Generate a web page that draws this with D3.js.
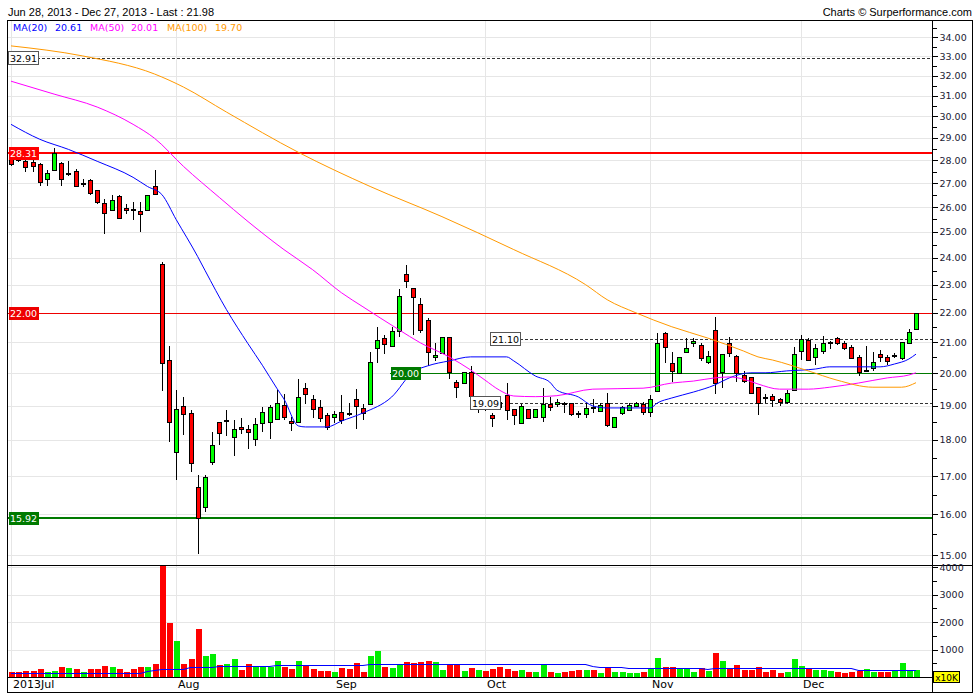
<!DOCTYPE html>
<html><head><meta charset="utf-8">
<script src="https://cdn.jsdelivr.net/npm/d3@7"></script>
<style>body{margin:0;background:#fff}svg{display:block}</style>
</head><body><svg id="c" width="980" height="700"></svg>
<script>
// ---------- DATA ----------
const openP = [28.10,28.20,27.95,27.90,27.82,27.20,27.55,27.86,27.43,27.51,
27.00,27.12,26.69,26.18,25.86,26.44,25.98,25.94,25.82,25.90,
26.90,23.78,20.42,17.65,18.99,18.78,16.70,16.18,17.38,18.51,
18.55,18.07,18.37,18.31,18.02,18.48,18.51,18.60,19.02,18.54,
18.51,19.53,19.20,18.96,18.72,18.66,18.81,18.78,19.20,18.93,
19.05,20.81,21.14,20.88,21.38,23.38,22.89,22.32,21.76,20.53,
20.65,21.18,19.72,19.69,20.04,18.95,19.20,18.72,19.10,19.32,
18.90,18.48,18.90,18.66,18.66,19.05,19.05,19.08,19.08,18.78,
18.75,18.95,18.84,19.08,18.37,18.78,18.87,18.99,19.05,18.81,
19.44,21.31,20.32,20.01,20.68,20.98,20.91,20.36,21.42,20.04,
20.98,20.55,19.94,19.88,19.56,19.27,19.29,19.20,19.11,19.47,
20.71,21.08,20.52,20.71,20.98,21.14,20.98,20.84,20.52,20.08,
20.16,20.62,20.52,20.55,20.49,20.98,21.45];
const highP = [28.30,28.40,27.99,28.00,27.86,27.55,28.53,27.91,27.95,27.60,
27.20,27.16,26.73,26.35,26.52,26.52,26.14,26.22,26.22,26.52,
27.55,23.85,20.88,19.47,19.26,18.87,17.02,17.04,18.22,18.51,
18.87,18.57,18.63,18.43,18.63,18.96,19.02,19.47,19.35,18.66,
19.81,19.69,19.32,19.17,18.78,18.84,19.32,19.08,19.50,19.05,
20.68,21.52,21.25,21.52,22.85,23.71,22.89,22.53,21.83,20.98,
21.18,21.18,19.78,20.04,20.23,19.25,19.30,18.78,19.25,19.69,
18.90,19.05,18.90,18.90,19.53,19.26,19.20,19.11,19.08,18.84,
19.08,19.20,19.08,19.38,18.66,18.99,19.08,19.11,19.11,19.32,
21.31,21.35,20.68,20.52,21.14,21.14,20.98,20.71,21.86,20.62,
21.18,20.59,20.07,19.88,19.56,19.35,19.35,19.23,19.47,20.84,
21.25,21.14,20.94,21.21,21.04,21.18,21.04,20.91,20.59,20.88,
20.68,20.75,20.59,20.65,21.00,21.45,22.00];
const lowP = [27.75,27.90,27.46,27.46,26.86,26.90,27.51,26.90,27.29,26.82,
26.82,26.48,26.14,24.93,25.82,25.57,25.73,25.49,25.01,25.90,
26.48,19.43,17.93,16.88,18.13,17.10,15.03,16.05,17.29,17.85,
18.10,17.54,18.16,17.74,17.82,18.22,18.02,18.57,18.57,18.25,
18.48,19.05,18.63,18.51,18.28,18.48,18.46,18.69,18.31,18.57,
19.05,20.32,20.62,20.84,21.18,22.89,21.25,21.31,20.23,20.39,
20.65,19.81,19.23,19.69,19.02,18.78,18.84,18.37,18.90,18.57,
18.43,18.46,18.63,18.63,18.51,18.84,18.96,18.78,18.69,18.63,
18.63,18.78,18.81,18.37,18.37,18.72,18.84,18.96,18.72,18.66,
19.44,20.32,19.72,20.01,20.65,20.84,20.39,20.29,19.35,19.53,
20.52,19.72,19.69,19.38,18.72,19.08,18.96,18.99,19.05,19.47,
20.42,20.39,20.26,20.62,20.78,20.91,20.75,20.45,19.91,20.07,
20.07,20.36,20.26,20.49,20.42,20.94,21.42];
const closeP = [27.85,27.99,27.69,27.73,27.03,27.42,28.30,27.20,27.45,26.86,
27.02,26.60,26.22,25.77,26.31,25.57,25.86,25.86,25.73,26.48,
26.56,20.32,18.51,18.90,18.75,17.35,15.92,16.96,17.85,18.19,
18.58,18.31,18.31,18.22,18.46,18.81,18.96,19.08,18.66,18.48,
19.26,19.35,18.90,18.63,18.37,18.75,18.57,18.74,18.99,18.78,
20.36,21.08,20.94,21.38,22.60,23.14,22.57,21.42,20.68,20.57,
21.18,20.04,19.56,20.04,19.29,19.15,19.00,18.63,18.95,18.87,
18.72,18.99,18.63,18.90,19.05,18.96,19.11,19.05,18.75,18.75,
18.93,18.92,19.02,18.43,18.66,18.96,19.02,19.08,18.81,19.20,
20.98,20.84,20.07,20.52,20.81,21.04,20.49,20.55,19.69,20.62,
20.65,20.01,19.75,19.38,19.08,19.25,19.17,19.11,19.38,20.62,
21.11,20.42,20.81,20.98,21.00,20.98,20.81,20.49,20.04,20.11,
20.36,20.52,20.39,20.58,21.00,21.35,21.98];
const volume = [181,181,229,229,278,181,229,374,338,278,
181,302,302,411,374,278,181,278,374,374,
483,4300,1981,1316,483,664,1751,773,845,447,
483,664,266,483,374,374,374,592,374,302,
592,411,302,229,229,193,338,302,519,193,
772,953,374,338,447,555,519,555,591,555,
266,447,447,229,338,266,229,302,374,302,
229,266,193,193,447,193,157,193,229,266,
266,266,157,374,193,193,157,157,193,314,
700,374,374,314,314,193,338,229,881,591,
314,447,266,266,374,193,266,157,193,664,
411,338,266,266,229,193,157,193,229,302,
193,193,193,229,519,229,266];

const ma20Idx = [0,4,8,12,17,19,21,23,26,27,30,33,35,37,38,40,41,44,46,49,53,56,58,61,64,69,70,73,75,76,79,81,83,89,90,92,95,98,100,103,105,108,112,114,118,121,123,125,126];
const ma20Val = [29.63,28.94,28.48,27.95,27.25,26.86,26.52,25.49,24.04,23.53,22.11,20.95,20.25,19.53,19.20,18.40,18.37,18.37,18.54,18.78,19.26,20.04,20.23,20.39,20.52,20.52,20.39,19.91,19.72,19.47,19.26,18.99,18.93,18.93,19.08,19.23,19.41,19.63,19.85,20.01,20.01,20.07,20.13,20.20,20.20,20.20,20.29,20.45,20.61];
const ma50Idx = [0,6,12,17,20,24,29,33,38,42,46,49,54,57,61,64,66,68,70,73,76,81,88,92,95,98,100,102,104,107,111,114,118,122,125,126];
const ma50Val = [31.72,31.08,30.45,29.63,28.98,27.73,26.40,25.41,24.31,23.55,22.71,22.21,21.42,20.98,20.52,20.10,19.78,19.47,19.29,19.27,19.30,19.50,19.53,19.69,19.75,19.85,19.88,19.81,19.66,19.50,19.50,19.56,19.69,19.85,19.94,20.01];
const ma100Idx = [0,10,20,24,30,40,50,60,70,80,83,87,92,97,102,104,106,111,115,120,124,126];
const ma100Val = [33.54,33.01,32.08,31.43,30.21,28.35,26.86,25.61,24.31,23.00,22.46,22.00,21.52,21.14,20.71,20.52,20.42,20.07,19.78,19.56,19.56,19.70];
const volMaIdx = [0,18,19,21,24,25,28,29,36,37,49,50,80,81,82,85,86,96,97,98,117,118,126];
const volMaVal = [156,156,228,290,290,350,350,398,398,434,434,458,458,398,374,374,314,314,300,314,314,253,253];

const monthIdx = [0,23,45,66,89,110];
const monthLabels = ["2013Jul","Aug","Sep","Oct","Nov","Dec"];
const priceTicks = d3.range(15,35);
const volTicks = [1000,2000,3000,4000];
const levelValues = [32.91,28.31,22.00,21.10,20.00,19.09,15.92];
const levelLabels = ["32.91","28.31","22.00","21.10","20.00","19.09","15.92"];
const maNames = ["MA(20)","MA(50)","MA(100)"];
const maLast = ["20.61","20.01","19.70"];
const headerText = "Jun 28, 2013 - Dec 27, 2013 - Last : 21.98";
const creditText = "Charts \u00a9 Surperformance.com";

// ---------- LAYOUT ----------
const L=7, R=932, FR=973, T=20, PB=565, VT=565, VB=677, B=692;
const svg = d3.select('#c');
const x = d3.scaleLinear().domain([0,126]).range([11,916]);
const y = d3.scaleLog().domain([14.77,34.94]).range([PB,T]);
const yv = d3.scaleLinear().domain([0,4000]).range([VB,567]);
const cx = i => Math.round(x(i));
const fontAxis = "DejaVu Sans, Verdana, sans-serif";

const defs = svg.append('defs');
defs.append('clipPath').attr('id','pc').append('rect').attr('x',L+1).attr('y',T+1).attr('width',R-L-1).attr('height',PB-T-1);
defs.append('clipPath').attr('id','vc').append('rect').attr('x',L+1).attr('y',VT+1).attr('width',R-L-1).attr('height',VB-VT-1);

// header
svg.append('text').attr('x',8).attr('y',16).attr('font-family','Liberation Sans, Arial, sans-serif').attr('font-size',11).attr('fill','#000').text(headerText);
svg.append('text').attr('x',972).attr('y',16).attr('text-anchor','end').attr('font-family','Liberation Sans, Arial, sans-serif').attr('font-size',11).attr('fill','#000').text(creditText);

// grid
const grid = svg.append('g').attr('shape-rendering','crispEdges').attr('stroke','#e6e6e6').attr('stroke-width',1);
grid.selectAll('.hg').data(priceTicks).join('line')
  .attr('x1',L).attr('x2',R).attr('y1',d=>Math.round(y(d))+0.5).attr('y2',d=>Math.round(y(d))+0.5);
grid.selectAll('.vg').data(volTicks).join('line')
  .attr('x1',L).attr('x2',R).attr('y1',d=>Math.round(yv(d))+0.5).attr('y2',d=>Math.round(yv(d))+0.5);
grid.selectAll('.mg').data(monthIdx).join('line')
  .attr('x1',d=>cx(d)+0.5).attr('x2',d=>cx(d)+0.5).attr('y1',T).attr('y2',VB);

// level lines
const levelStyle = [
 {stroke:'#333',w:1,dash:'3,2',fromI:null,box:'#fff',txt:'#000',border:'#555'},
 {stroke:'#ff0000',w:2,dash:null,fromI:null,box:'#ff0000',txt:'#fff',border:null},
 {stroke:'#ee0000',w:1,dash:null,fromI:null,box:'#ee0000',txt:'#fff',border:null},
 {stroke:'#333',w:1,dash:'3,2',fromI:66.7,box:'#fff',txt:'#000',border:'#555'},
 {stroke:'#007a00',w:1,dash:null,fromI:52.8,box:'#007a00',txt:'#fff',border:null},
 {stroke:'#333',w:1,dash:'3,2',fromI:63.9,box:'#fff',txt:'#000',border:'#555'},
 {stroke:'#007a00',w:2,dash:null,fromI:null,box:'#007a00',txt:'#fff',border:null}
];
const lv = svg.append('g').attr('clip-path','url(#pc)');
levelValues.forEach((v,k)=>{
  const s = levelStyle[k];
  const x0 = s.fromI==null ? L : x(s.fromI);
  const yy = s.w===2 ? Math.round(y(v)) : Math.round(y(v))+0.5;
  lv.append('line').attr('x1',x0).attr('x2',R).attr('y1',yy).attr('y2',yy)
    .attr('stroke',s.stroke).attr('stroke-width',s.w).attr('stroke-dasharray',s.dash).attr('shape-rendering','crispEdges');
});

// candles
const cg = svg.append('g').attr('clip-path','url(#pc)').attr('shape-rendering','crispEdges');
const idx = d3.range(openP.length);
cg.selectAll('.wick').data(idx).join('line')
  .attr('x1',i=>cx(i)+0.5).attr('x2',i=>cx(i)+0.5)
  .attr('y1',i=>y(highP[i])).attr('y2',i=>y(lowP[i]))
  .attr('stroke','#000').attr('stroke-width',1);
cg.selectAll('.body').data(idx).join('rect')
  .attr('x',i=>cx(i)-1.5).attr('width',4)
  .attr('y',i=>Math.round(y(Math.max(openP[i],closeP[i])))+0.5)
  .attr('height',i=>Math.max(0.5,Math.round(y(Math.min(openP[i],closeP[i])))-Math.round(y(Math.max(openP[i],closeP[i])))))
  .attr('fill',i=>closeP[i]>=openP[i]?'#00ff00':'#ff0000')
  .attr('stroke','#000').attr('stroke-width',1);

// moving averages
const maG = svg.append('g').attr('clip-path','url(#pc)').attr('fill','none');
const maSets = [[ma20Idx,ma20Val,'#0000ff'],[ma50Idx,ma50Val,'#ff00ff'],[ma100Idx,ma100Val,'#ff9900']];
maSets.forEach(([ii,vv,col])=>{
  const line = d3.line().x((d,k)=>x(ii[k])).y(d=>y(d)).curve(d3.curveMonotoneX);
  maG.append('path').attr('d',line(vv)).attr('stroke',col).attr('stroke-width',1);
});

// volume
const vg = svg.append('g').attr('clip-path','url(#vc)').attr('shape-rendering','crispEdges');
vg.selectAll('rect').data(idx).join('rect')
  .attr('x',i=>cx(i)-2.5).attr('width',6)
  .attr('y',i=>Math.round(yv(volume[i]))).attr('height',i=>VB-Math.round(yv(volume[i])))
  .attr('fill',i=>closeP[i]>=openP[i]?'#00ee00':'#ff0000');
const vline = d3.line().x((d,k)=>x(volMaIdx[k])).y(d=>Math.round(yv(d))+0.5);
svg.append('path').attr('clip-path','url(#vc)').attr('d',vline(volMaVal)).attr('fill','none').attr('stroke','#0000ff').attr('stroke-width',1.2);

// frames
const fr = svg.append('g').attr('shape-rendering','crispEdges').attr('stroke','#000').attr('fill','none');
fr.append('rect').attr('x',L+0.5).attr('y',T+0.5).attr('width',FR-L-1).attr('height',B-T);
fr.append('line').attr('x1',R+0.5).attr('x2',R+0.5).attr('y1',T).attr('y2',B);
fr.append('line').attr('x1',L).attr('x2',FR).attr('y1',VT+0.5).attr('y2',VT+0.5);
fr.append('line').attr('x1',L).attr('x2',R).attr('y1',VB+0.5).attr('y2',VB+0.5);

// price axis (right)
const pAxis = d3.axisRight(y).tickValues(priceTicks).tickFormat(d3.format('.2f')).tickSize(5).tickPadding(2);
svg.append('g').attr('transform',`translate(${R+0.5},0)`).call(pAxis);
const minorP = d3.range(15,35,0.5).filter(v=>v%1!==0);
svg.append('g').attr('transform',`translate(${R+0.5},0)`).call(d3.axisRight(y).tickValues(minorP).tickFormat('').tickSize(4));
svg.append('g').attr('transform',`translate(${R+0.5},0)`).call(d3.axisRight(yv).tickValues(volTicks).tickFormat(d3.format('d')).tickSize(5).tickPadding(2));
svg.append('g').attr('transform',`translate(${R+0.5},0)`).call(d3.axisRight(yv).tickValues([500,1500,2500,3500]).tickFormat('').tickSize(4));
svg.selectAll('.domain').remove();
svg.selectAll('.tick line').attr('stroke','#000').attr('shape-rendering','crispEdges');
svg.selectAll('.tick text').attr('font-family',fontAxis).attr('font-size',9.5).attr('fill','#1a1a33');

// x10K badge
svg.append('rect').attr('x',933.5).attr('y',671.5).attr('width',26).attr('height',11).attr('fill','#ffff00').attr('stroke','#000').attr('shape-rendering','crispEdges');
svg.append('text').attr('x',946.5).attr('y',680.5).attr('text-anchor','middle').attr('font-family',fontAxis).attr('font-size',9).attr('fill','#000').text('x10K');

// month labels
svg.selectAll('.ml').data(monthIdx).join('text')
  .attr('x',d=>cx(d)+2).attr('y',688).attr('font-family',fontAxis).attr('font-size',11).attr('fill','#000')
  .text((d,k)=>monthLabels[k]);

// level labels
levelValues.forEach((v,k)=>{
  const s = levelStyle[k];
  const bx = s.fromI==null ? L+1 : Math.round(x(s.fromI));
  const yy = Math.round(y(v));
  svg.append('rect').attr('x',bx+0.5).attr('y',yy-6.5).attr('width',30).attr('height',13)
    .attr('fill',s.box).attr('stroke',s.border||'none').attr('shape-rendering','crispEdges');
  svg.append('text').attr('x',bx+15.5).attr('y',yy+4).attr('text-anchor','middle')
    .attr('font-family',fontAxis).attr('font-size',9.5).attr('fill',s.txt).text(levelLabels[k]);
});

// legend
const legX = [13,55,90,131,167,215];
const legCol = ['#0000ff','#ff00ff','#ff9900'];
maNames.forEach((n,k)=>{
  svg.append('text').attr('x',legX[2*k]).attr('y',31).attr('font-family',fontAxis).attr('font-size',9.5).attr('fill',legCol[k]).text(n);
  svg.append('text').attr('x',legX[2*k+1]).attr('y',31).attr('font-family',fontAxis).attr('font-size',9.5).attr('fill',legCol[k]).text(maLast[k]);
});
</script></body></html>
